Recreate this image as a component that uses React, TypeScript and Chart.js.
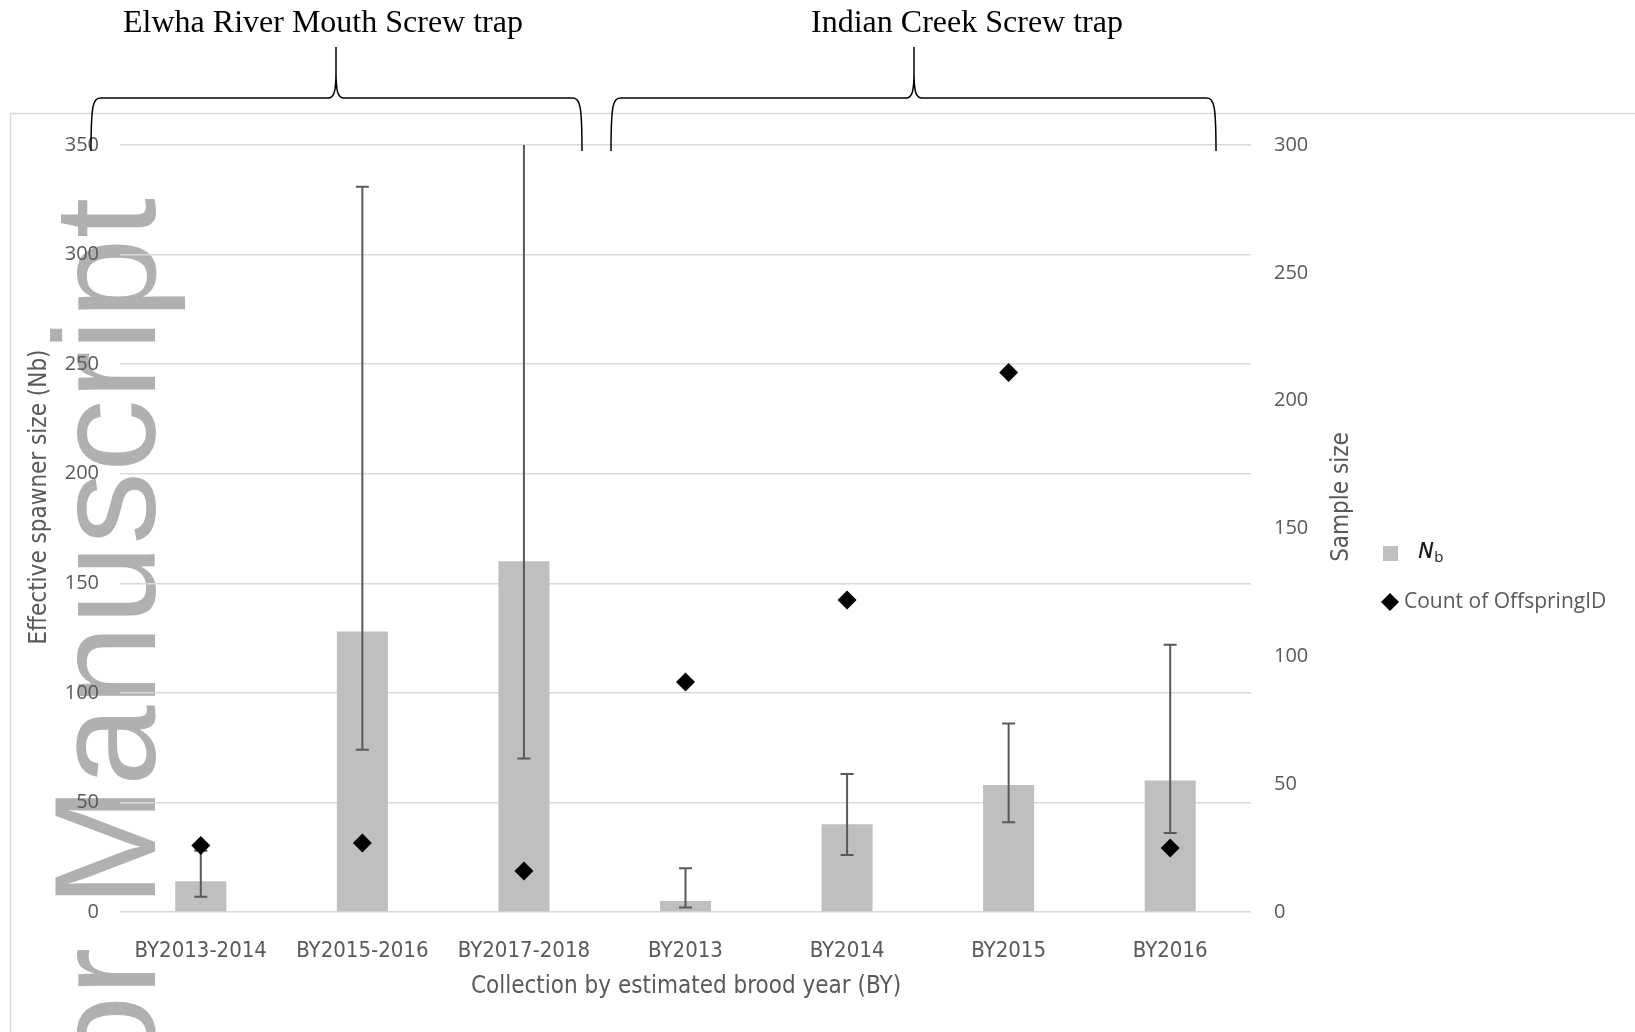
import React, { useEffect, useRef } from 'react';
import { Chart, registerables } from 'chart.js';

Chart.register(...registerables);

// ---- data ----
const categories = ['BY2013-2014', 'BY2015-2016', 'BY2017-2018', 'BY2013', 'BY2014', 'BY2015', 'BY2016'];
const nbValues = [14, 128, 160, 5, 40, 58, 60];
const nbLower = [7, 74, 70, 2, 26, 41, 36];
const nbUpper = [28, 331, 350, 20, 63, 86, 122];
const offspringCounts = [26, 27, 16, 90, 122, 211, 25];
const leftAxisMax = 350;
const rightAxisMax = 300;
const tickStep = 50;
const groupTitles = ['Elwha River Mouth Screw trap', 'Indian Creek Screw trap'];
const xAxisTitle = 'Collection by estimated brood year (BY)';
const leftAxisTitle = 'Effective spawner size (Nb)';
const rightAxisTitle = 'Sample size';
const legendSecond = 'Count of OffspringID';
const watermarkText = 'Author Manuscript';

const NARROW = "'Liberation Sans Narrow', 'DejaVu Sans Condensed', 'Roboto Condensed', sans-serif";
const WIDE = "'Open Sans', 'Noto Sans', sans-serif";
const GREY_TEXT = '#595959';
const BAR_COLOR = '#bfbfbf';

const decorPlugin = {
  id: 'decor',
  beforeDraw(chart: any) {
    const ctx = chart.ctx;
    ctx.save();
    ctx.fillStyle = '#ffffff';
    ctx.fillRect(0, 0, chart.width, chart.height);
    // chart-area border
    ctx.strokeStyle = '#d9d9d9';
    ctx.lineWidth = 1.5;
    ctx.strokeRect(10.5, 113.5, chart.width + 50, chart.height + 50);
    // watermark
    ctx.translate(155, 198);
    ctx.rotate(-Math.PI / 2);
    ctx.font = "145px 'Liberation Sans', Arial, sans-serif";
    ctx.fillStyle = '#b0b0b0';
    ctx.textAlign = 'right';
    ctx.textBaseline = 'alphabetic';
    ctx.fillText(watermarkText, 0, 0);
    ctx.restore();
  },
  afterDatasetDraw(chart: any, args: any) {
    if (args.index !== 0) return;
    const ctx = chart.ctx;
    const xs = chart.scales.x;
    const ys = chart.scales.y;
    const area = chart.chartArea;
    ctx.save();
    ctx.beginPath();
    ctx.rect(area.left, area.top - 1, area.right - area.left, area.bottom - area.top + 2);
    ctx.clip();
    ctx.strokeStyle = '#595959';
    ctx.lineWidth = 2;
    const cap = 6.5;
    for (let i = 0; i < categories.length; i++) {
      const x = xs.getPixelForValue(i);
      const yl = ys.getPixelForValue(nbLower[i]);
      const yh = ys.getPixelForValue(nbUpper[i]);
      ctx.beginPath();
      ctx.moveTo(x, yl);
      ctx.lineTo(x, yh);
      ctx.moveTo(x - cap, yl);
      ctx.lineTo(x + cap, yl);
      if (nbUpper[i] < leftAxisMax) {
        ctx.moveTo(x - cap, yh);
        ctx.lineTo(x + cap, yh);
      }
      ctx.stroke();
    }
    ctx.restore();
  },
  afterDraw(chart: any) {
    const ctx = chart.ctx;
    ctx.save();
    // axis titles
    ctx.fillStyle = GREY_TEXT;
    ctx.font = `24px ${NARROW}`;
    ctx.textAlign = 'center';
    ctx.textBaseline = 'middle';
    ctx.fillText(xAxisTitle, 686, 987);
    ctx.save();
    ctx.translate(40, 497);
    ctx.rotate(-Math.PI / 2);
    ctx.fillText(leftAxisTitle, 0, 0);
    ctx.restore();
    ctx.save();
    ctx.translate(1342, 497);
    ctx.rotate(-Math.PI / 2);
    ctx.fillText(rightAxisTitle, 0, 0);
    ctx.restore();

    // legend
    ctx.fillStyle = BAR_COLOR;
    ctx.fillRect(1383, 546, 15, 15);
    ctx.fillStyle = '#1a1a1a';
    ctx.textAlign = 'left';
    ctx.textBaseline = 'middle';
    ctx.font = `italic 600 21px ${WIDE}`;
    ctx.fillText('N', 1418, 552);
    const nW = ctx.measureText('N').width;
    ctx.font = `15px ${WIDE}`;
    ctx.fillText('b', 1418 + nW + 1, 558);
    ctx.fillStyle = '#000';
    ctx.beginPath();
    ctx.moveTo(1390 - 9, 602);
    ctx.lineTo(1390, 602 - 9);
    ctx.lineTo(1390 + 9, 602);
    ctx.lineTo(1390, 602 + 9);
    ctx.closePath();
    ctx.fill();
    ctx.fillStyle = GREY_TEXT;
    ctx.font = `21px ${WIDE}`;
    ctx.fillText(legendSecond, 1404, 602);

    // group titles
    ctx.fillStyle = '#000';
    ctx.font = "32px 'Liberation Serif', 'Times New Roman', serif";
    ctx.textAlign = 'center';
    ctx.fillText(groupTitles[0], 323, 24);
    ctx.fillText(groupTitles[1], 967, 24);

    // braces
    const brace = (x0: number, px: number, x1: number) => {
      const yh = 98, yt = 47, yb = 151;
      ctx.beginPath();
      ctx.moveTo(x0, yb);
      ctx.bezierCurveTo(x0, yh + 6, x0 + 2, yh, x0 + 10, yh);
      ctx.lineTo(px - 8, yh);
      ctx.bezierCurveTo(px - 2, yh, px, yh - 6, px, yh - 26);
      ctx.lineTo(px, yt);
      ctx.moveTo(px, yh - 26);
      ctx.bezierCurveTo(px, yh - 6, px + 2, yh, px + 8, yh);
      ctx.lineTo(x1 - 10, yh);
      ctx.bezierCurveTo(x1 - 2, yh, x1, yh + 6, x1, yb);
      ctx.stroke();
    };
    ctx.strokeStyle = '#000';
    ctx.lineWidth = 1.5;
    brace(91, 336, 582);
    brace(611, 914, 1216);
    ctx.restore();
  },
};

export default function App() {
  const ref = useRef<HTMLCanvasElement | null>(null);
  useEffect(() => {
    if (!ref.current) return;
    const chart = new Chart(ref.current, {
      type: 'bar',
      data: {
        labels: categories,
        datasets: [
          {
            type: 'bar',
            label: 'Nb',
            data: nbValues,
            backgroundColor: BAR_COLOR,
            yAxisID: 'y',
            barPercentage: 0.316,
            categoryPercentage: 1,
            order: 2,
          },
          {
            type: 'line',
            label: legendSecond,
            data: offspringCounts,
            yAxisID: 'y1',
            showLine: false,
            pointStyle: 'rectRot',
            pointRadius: 9.5,
            pointBorderWidth: 0,
            pointBackgroundColor: '#000',
            borderColor: '#000',
            backgroundColor: '#000',
            order: 1,
          } as any,
        ],
      },
      options: {
        animation: false,
        responsive: false,
        devicePixelRatio: 1,
        layout: { padding: { top: 145, left: 0, right: 0, bottom: 0 } },
        plugins: { legend: { display: false }, tooltip: { enabled: false } },
        scales: {
          x: {
            grid: { display: false },
            border: { display: false },
            ticks: {
              color: GREY_TEXT,
              font: { family: NARROW, size: 22 },
              padding: 18,
              maxRotation: 0,
              autoSkip: false,
            },
            afterFit: (s: any) => { s.height = 120; },
          },
          y: {
            position: 'left',
            min: 0,
            max: leftAxisMax,
            grid: { color: '#d9d9d9', lineWidth: 1.5, drawTicks: false },
            border: { display: false },
            ticks: {
              stepSize: tickStep,
              color: GREY_TEXT,
              font: { family: WIDE, size: 20 },
              padding: 21,
            },
            afterFit: (s: any) => { s.width = 120; },
          },
          y1: {
            position: 'right',
            min: 0,
            max: rightAxisMax,
            grid: { display: false, drawTicks: false },
            border: { display: false },
            ticks: {
              stepSize: tickStep,
              color: GREY_TEXT,
              font: { family: WIDE, size: 20 },
              padding: 23,
            },
            afterFit: (s: any) => { s.width = 384; },
          },
        },
      },
      plugins: [decorPlugin],
    });
    return () => chart.destroy();
  }, []);
  return (
    <div style={{ position: 'fixed', left: 0, top: 0, width: 1635, height: 1032, background: '#fff' }}>
      <canvas ref={ref} width={1635} height={1032} style={{ display: 'block', width: 1635, height: 1032 }} />
    </div>
  );
}
